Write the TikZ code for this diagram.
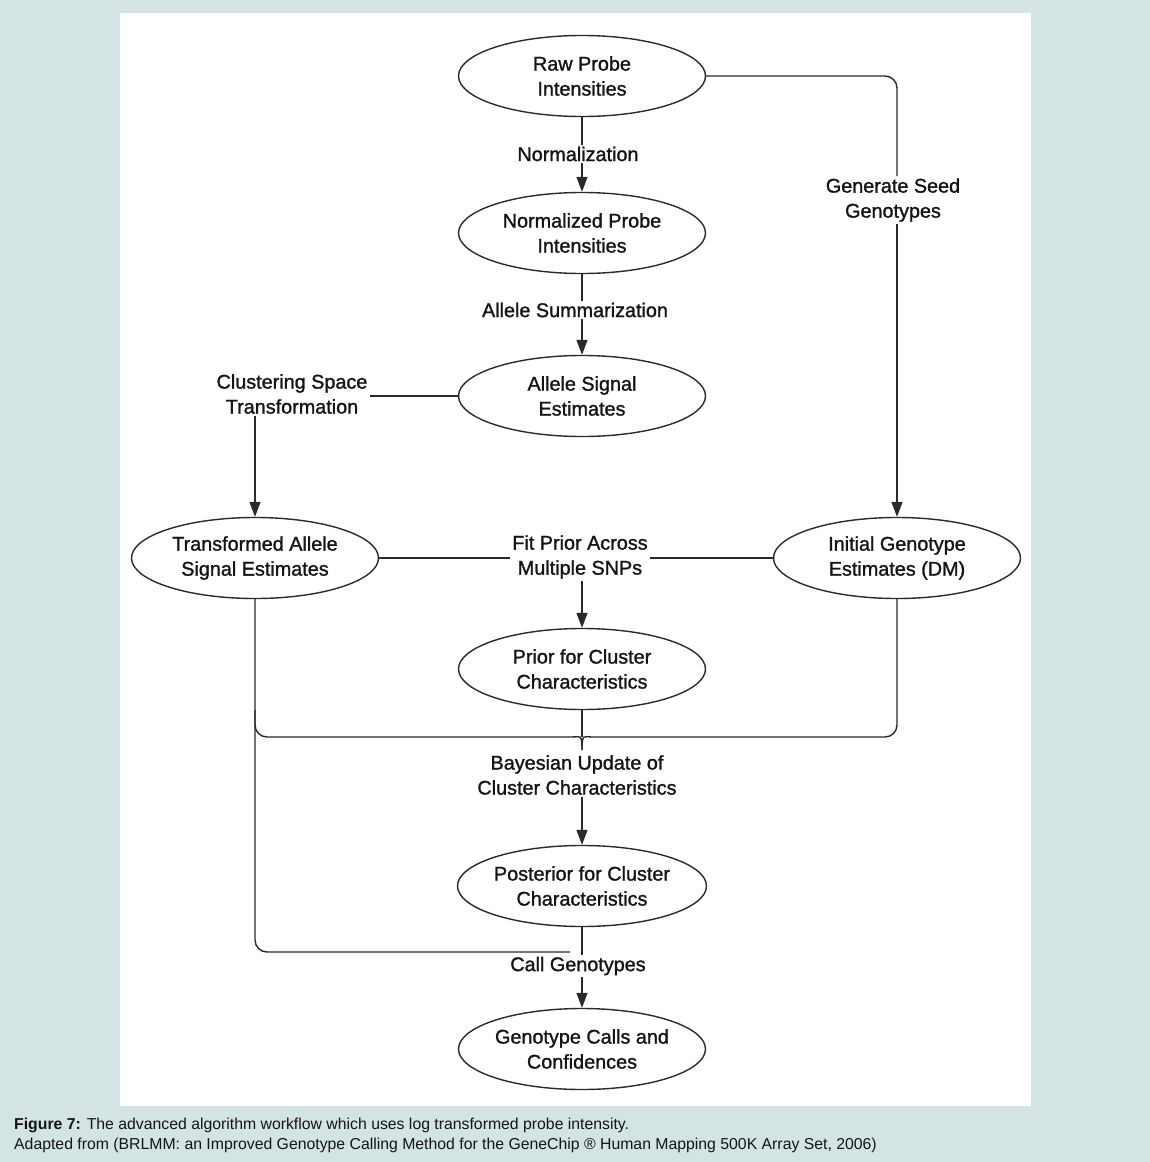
\documentclass[tikz,border=0pt]{standalone}
\usepackage{fontspec}
\setmainfont{Liberation Sans}
\newfontfamily\medfont[BoldFont={Liberation Sans},BoldFeatures={FakeBold=1.3}]{Liberation Sans}
\usetikzlibrary{shapes.geometric,arrows.meta}
\definecolor{bgblue}{HTML}{D4E3E3}
\definecolor{ink}{HTML}{2A2A2A}
\definecolor{txt}{HTML}{151515}
\tikzset{
  box/.style={ellipse, draw=ink, line width=1.4pt, fill=white, minimum width=247pt, minimum height=81pt, inner sep=0pt, align=center, text=txt, font=\medfont\bfseries\fontsize{19.8}{25}\selectfont},
  lab/.style={align=center, text=txt, inner sep=2pt, font=\medfont\bfseries\fontsize{19.8}{25}\selectfont},
  con/.style={draw=ink, line width=1.4pt},
  arr/.style={con, -{Triangle[length=15pt,width=11pt]}},
}
\begin{document}
\begin{tikzpicture}[x=1pt,y=-1pt]
\fill[bgblue] (0,0) rectangle (1150,1162);
\useasboundingbox (0,0) rectangle (1150,1162);
\fill[white] (120,13) rectangle (1031,1106);

% nodes
\node[box] (raw)   at (582,76)   {Raw Probe\\Intensities};
\node[box] (normp) at (582,233)  {Normalized Probe\\Intensities};
\node[box] (asig)  at (582,396)  {Allele Signal\\Estimates};
\node[box] (trans) at (255,558)  {Transformed Allele\\Signal Estimates};
\node[box] (init)  at (897,558)  {Initial Genotype\\Estimates (DM)};
\node[box] (prior) at (582,669)  {Prior for Cluster\\Characteristics};
\node[box] (post)  at (582,886)  {Posterior for Cluster\\Characteristics};
\node[box] (gcall) at (582,1049) {Genotype Calls and\\Confidences};

% labels
\node[lab] (lnorm)  at (578,154) {Normalization};
\node[lab] (lsum)   at (575,310) {Allele Summarization};
\node[lab] (lclust) at (292,394) {Clustering Space\\Transformation};
\node[lab] (lfit)   at (580,557) {Fit Prior Across\\Multiple SNPs};
\node[lab] (lgen)   at (893,200) {Generate Seed\\Genotypes};
\node[lab] (lbay)   at (577,775) {Bayesian Update of\\Cluster Characteristics};
\node[lab] (lcall)  at (578,966) {Call Genotypes};

% coordinates
\coordinate (mid) at (582,737);
\coordinate (tip) at (582,750);
\coordinate (j2) at (570,952);

% connectors
\draw[con] (raw.south) -- (raw.south |- lnorm.north);
\draw[arr] (normp.north |- lnorm.south) -- (normp.north);
\draw[con] (normp.south) -- (normp.south |- lsum.north);
\draw[arr] (asig.north |- lsum.south) -- (asig.north);
\draw[con] (asig.west) -- (asig.west -| lclust.east);
\draw[arr] (trans.north |- lclust.south) -- (trans.north);
\draw[con] (trans.east) -- (trans.east -| lfit.west);
\draw[con] (init.west) -- (init.west -| lfit.east);
\draw[arr] (prior.north |- lfit.south) -- (prior.north);
\draw[con, rounded corners=12pt] (raw.east) -- (raw.east -| init.north) -- (init.north |- lgen.north);
\draw[arr] (init.north |- lgen.south) -- (init.north);

% merge into Bayesian update
\draw[con] (prior.south) -- (mid);
\draw[con, rounded corners=12pt] (trans.south |- prior.south) -- (trans.south |- mid) -- ([xshift=-10pt]mid);
\draw[con, rounded corners=12pt] (init.south) -- (init.south |- mid) -- ([xshift=10pt]mid);
\draw[con] ([xshift=-10pt]mid) .. controls ([xshift=-2pt]mid) and ([yshift=4pt]mid) .. (tip);
\draw[con] ([xshift=10pt]mid) .. controls ([xshift=2pt]mid) and ([yshift=4pt]mid) .. (tip);
\draw[arr] (post.north |- lbay.south) -- (post.north);

% call genotypes
\draw[con, rounded corners=12pt] (trans.south) -- (trans.south |- j2) -- (j2);
\draw[con] (post.south) -- (post.south |- lcall.north);
\draw[arr] (gcall.north |- lcall.south) -- (gcall.north);

% caption
\node[anchor=north west, align=left, inner sep=0pt, text=txt, font=\fontsize{15.8}{19.5}\selectfont] (cap) at (14,1118)
  {\textbf{Figure 7:} The advanced algorithm workflow which uses log transformed probe intensity.\\
   Adapted from (BRLMM: an Improved Genotype Calling Method for the GeneChip ® Human Mapping 500K Array Set, 2006)};
\end{tikzpicture}
\end{document}
